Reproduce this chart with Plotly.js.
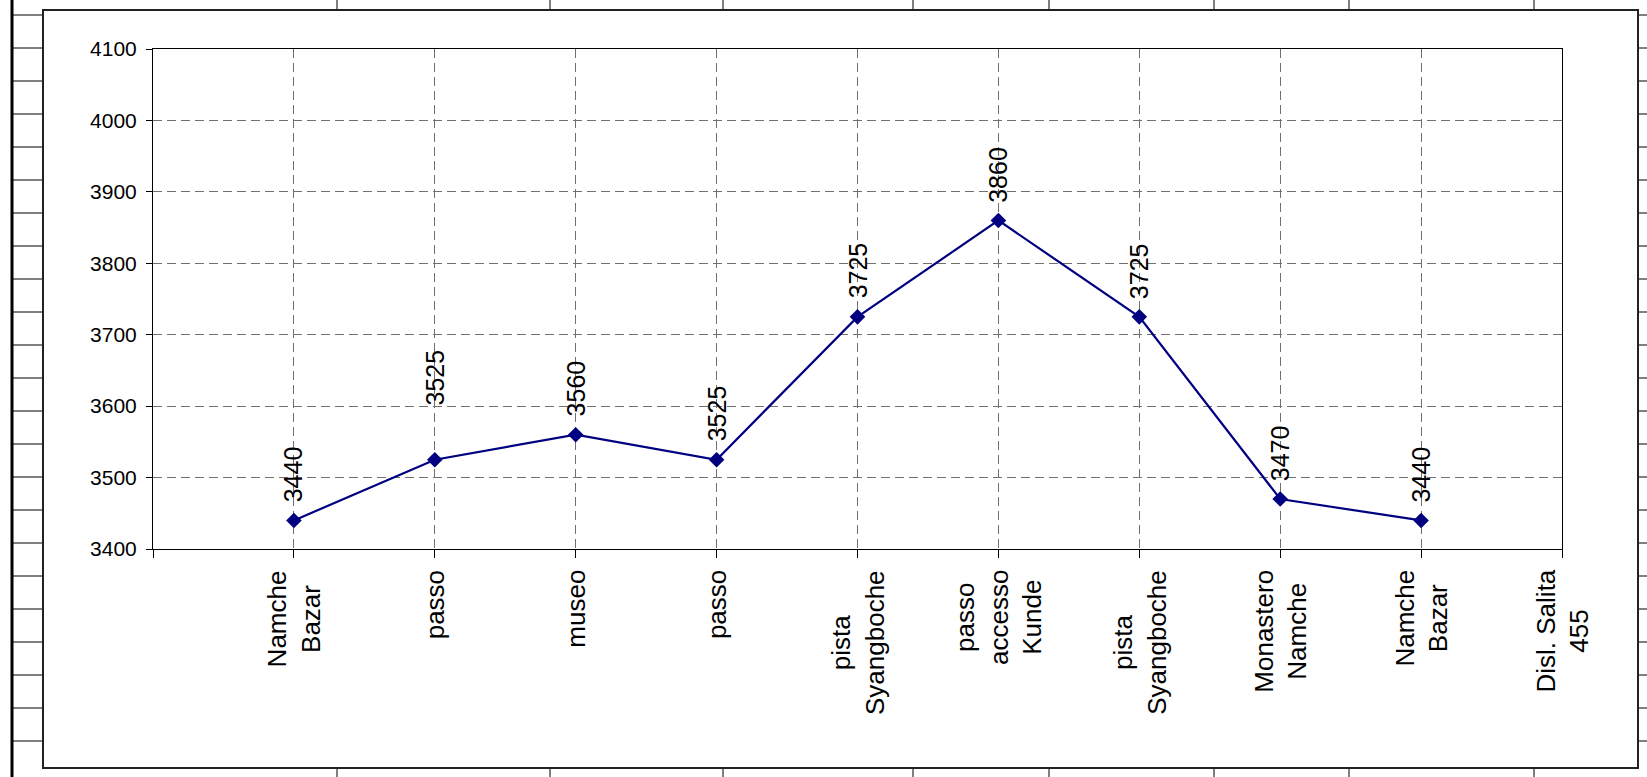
<!DOCTYPE html>
<html>
<head>
<meta charset="utf-8">
<script src="https://cdn.plot.ly/plotly-3.0.1.min.js"></script>
<style>
  html, body { margin: 0; padding: 0; background: #ffffff; }
  #chart { width: 1647px; height: 777px; }
</style>
</head>
<body>
<div id="chart"></div>
<script>
// ---- data ----
const categories = ["Namche<br>Bazar", "passo", "museo", "passo", "pista<br>Syangboche",
  "passo<br>accesso<br>Kunde", "pista<br>Syangboche", "Monastero<br>Namche", "Namche<br>Bazar",
  "Disl. Salita<br>455"];
const altitudes = [3440, 3525, 3560, 3525, 3725, 3860, 3725, 3470, 3440];
const yTicks = [3400, 3500, 3600, 3700, 3800, 3900, 4000, 4100];

// ---- geometry helpers (layout only) ----
const W = 1647, H = 777;
const L = 153, R = 1562, T = 49, B = 549;
const PW = R - L, PH = B - T;
const px = x => (x - L) / PW;
const py = y => (B - y) / PH;
const FONT = "Liberation Sans, Arial, Helvetica, sans-serif";

const xs = altitudes.map((_, i) => i + 1);

const trace = {
  x: xs,
  y: altitudes,
  type: "scatter",
  mode: "lines+markers",
  line: { color: "#000080", width: 2.2 },
  marker: { symbol: "diamond", size: 12, color: "#000080" },
  hoverinfo: "skip",
  cliponaxis: false
};

const annotations = [];
// data labels
altitudes.forEach((v, i) => {
  annotations.push({
    x: i + 1, y: v, xref: "x", yref: "y",
    text: String(v), showarrow: false, textangle: -90,
    xanchor: "center", yanchor: "bottom",
    yshift: i === 1 ? 52 : 16,
    font: { family: FONT, size: 25, color: "#000000" }
  });
});
// category labels
categories.forEach((c, i) => {
  annotations.push({
    x: i + 1, y: py(568), xref: "x", yref: "paper",
    text: c, showarrow: false, textangle: -90,
    xanchor: "center", yanchor: "top", align: "center",
    font: { family: FONT, size: 26, color: "#000000" }
  });
});

// ---- decorative spreadsheet background + chart frame ----
const shapes = [];
const ln = (x0, y0, x1, y1, w, c) => shapes.push({
  type: "line", xref: "paper", yref: "paper",
  x0: px(x0), y0: py(y0), x1: px(x1), y1: py(y1),
  line: { color: c || "#000000", width: w || 1 }, layer: "below"
});
ln(12, 0, 12, H, 3);
for (let k = 0; k <= 22; k++) {
  const y = 15 + 33 * k;
  ln(12, y, 43, y, 1);
  ln(1638, y, W, y, 1);
}
[337, 550, 723, 913, 1049, 1214, 1349, 1534].forEach(x => {
  ln(x, 0, x, 10, 1);
  ln(x, 768, x, H, 1);
});
shapes.push({
  type: "rect", xref: "paper", yref: "paper",
  x0: px(43), y0: py(10), x1: px(1638), y1: py(768),
  line: { color: "#222222", width: 2 }, fillcolor: "rgba(0,0,0,0)", layer: "below"
});

const layout = {
  width: W, height: H,
  margin: { l: L, r: W - R, t: T, b: H - B, pad: 0 },
  paper_bgcolor: "#ffffff",
  plot_bgcolor: "#ffffff",
  showlegend: false,
  hovermode: false,
  font: { family: FONT, color: "#000000" },
  xaxis: {
    type: "linear",
    range: [0, categories.length],
    tickvals: [0].concat(categories.map((_, i) => i + 1)),
    showticklabels: false,
    ticks: "outside", ticklen: 8, tickcolor: "#000000", tickwidth: 1,
    showgrid: true, gridcolor: "#707070", gridwidth: 1, griddash: "9px,5px",
    showline: true, linecolor: "#000000", linewidth: 1, mirror: true,
    zeroline: false, fixedrange: true
  },
  yaxis: {
    range: [yTicks[0], yTicks[yTicks.length - 1]],
    tickvals: yTicks,
    ticktext: yTicks.map(String),
    ticks: "outside", ticklen: 6, tickcolor: "#000000", tickwidth: 1,
    ticklabelstandoff: 5,
    tickfont: { family: FONT, size: 21, color: "#000000" },
    showgrid: true, gridcolor: "#707070", gridwidth: 1, griddash: "9px,5px",
    showline: true, linecolor: "#000000", linewidth: 1, mirror: true,
    zeroline: false, fixedrange: true
  },
  annotations: annotations,
  shapes: shapes
};

Plotly.newPlot("chart", [trace], layout, { displayModeBar: false, staticPlot: true });
</script>
</body>
</html>
